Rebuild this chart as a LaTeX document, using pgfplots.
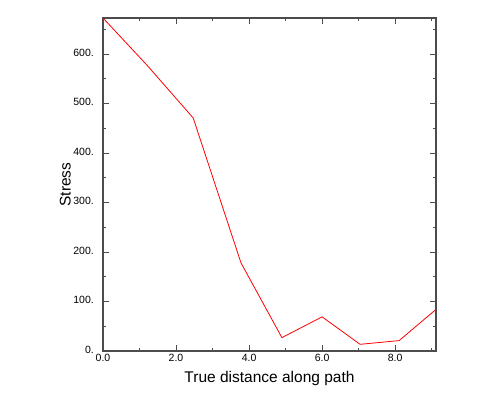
\documentclass[border=0pt]{standalone}
\usepackage{pgfplots}
\pgfplotsset{compat=1.18}
\usepackage{fontspec}
\setmainfont{Liberation Sans}
\begin{document}
\begin{tikzpicture}[x=1pt,y=1pt]
\path[use as bounding box] (0,0) rectangle (504,398);
\begin{axis}[
  at={(103pt,47pt)}, anchor=south west,
  width=333pt, height=333pt, scale only axis,
  xmin=0, xmax=9.12, ymin=0, ymax=673,
  xtick={0,2,4,6,8}, xticklabels={0.0,2.0,4.0,6.0,8.0},
  ytick={0,100,200,300,400,500,600}, yticklabels={0.,100.,200.,300.,400.,500.,600.},
  minor xtick={1,3,5,7,9}, minor ytick={50,150,250,350,450,550,650},
  tick align=inside, tick pos=both,
  major tick length=6pt, minor tick length=3pt,
  every tick/.style={black!70, line width=1pt},
  axis line style={black!70, line width=1.2pt},
  /pgf/number format/assume math mode=true,
  tick label style={font=\fontsize{10.5}{12}\selectfont},
  xticklabel style={anchor=north, yshift=-1.5pt, inner sep=1pt},
  yticklabel style={anchor=east, xshift=-8pt, yshift=1.5pt, inner sep=1pt},
  xlabel={True distance along path}, ylabel={Stress},
  label style={font=\fontsize{15.5}{18}\selectfont},
  xlabel style={yshift=-6pt},
  ylabel style={yshift=-2pt},
]
\addplot[red, line width=0.8pt] coordinates {
(0,673) (1.2,578) (2.47,471) (3.78,178) (4.9,27) (6.0,69) (7.04,13.5) (8.11,21) (9.12,84)
};
\end{axis}
\end{tikzpicture}
\end{document}
